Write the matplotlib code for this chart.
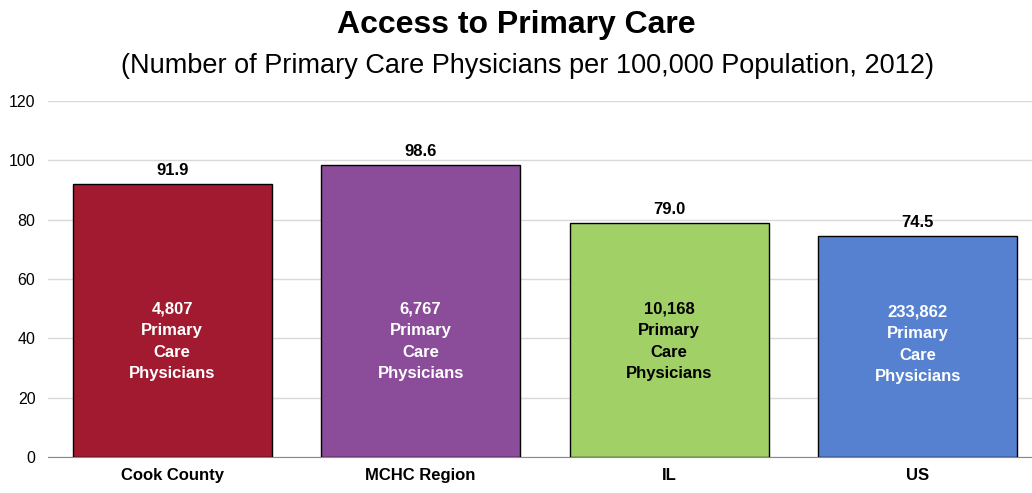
import numpy as np
import matplotlib.pyplot as plt
from matplotlib import font_manager

names = {f.name for f in font_manager.fontManager.ttflist}
narrow = 'Liberation Sans Narrow' if 'Liberation Sans Narrow' in names else 'Liberation Sans'

regions = ['Cook County', 'MCHC Region', 'IL', 'US']
rate = [91.9, 98.6, 79.0, 74.5]
physicians = ['4,807', '6,767', '10,168', '233,862']
colors = ['#A11A2F', '#8B4D9A', '#A1D066', '#5681D0']
inner_text_colors = ['white', 'white', 'black', 'white']

fig = plt.figure(figsize=(10.32, 4.93), dpi=100)
ax = fig.add_axes([0.0465, 0.073, 0.963, 0.722])

x = np.arange(len(regions))
ax.bar(x, rate, width=0.8, color=colors, edgecolor='black', linewidth=1, zorder=3)
ax.set_xlim(-0.5, 3.5)
ax.set_ylim(0, 120)
ax.set_yticks(range(0, 121, 20))
ax.yaxis.grid(True, color='#d9d9d9', linewidth=1, zorder=0)
for s in ['top', 'right', 'left']:
    ax.spines[s].set_visible(False)
ax.spines['bottom'].set_color('#888888')
ax.tick_params(axis='y', length=0, labelsize=11.5, pad=9)
ax.tick_params(axis='x', length=0, pad=8)
ax.set_xticks(x)
ax.set_xticklabels(regions, fontsize=12, fontweight='bold', family=narrow)
for lab in ax.get_yticklabels():
    lab.set_family(narrow)

for i in range(len(regions)):
    ax.text(x[i], rate[i] + 2, f'{rate[i]:.1f}', ha='center', va='bottom',
            fontsize=12, fontweight='bold', family=narrow)
    ax.text(x[i], 39 if i < 3 else 38, f'{physicians[i]}\nPrimary\nCare\nPhysicians',
            ha='center', va='center', fontsize=12, fontweight='bold',
            color=inner_text_colors[i], family=narrow, linespacing=1.55)

fig.text(0.5, 0.949, 'Access to Primary Care', ha='center', va='center',
         fontsize=23, fontweight='bold', family='Liberation Sans')
fig.text(0.511, 0.866, '(Number of Primary Care Physicians per 100,000 Population, 2012)',
         ha='center', va='center', fontsize=19.5, family='Liberation Sans')

fig.savefig('out.png', dpi=100)
